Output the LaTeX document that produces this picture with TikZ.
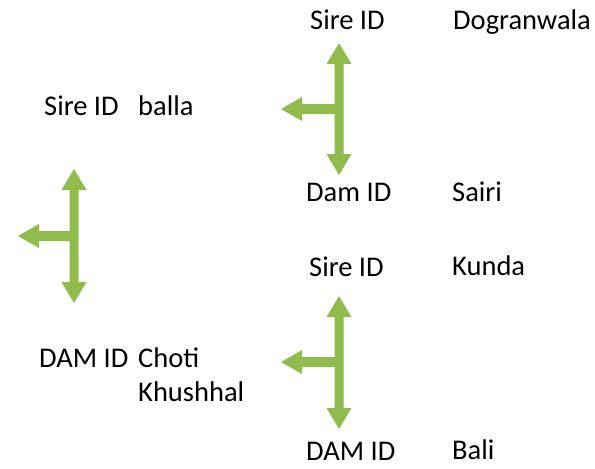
\documentclass[tikz,border=0pt]{standalone}
\usepackage{fontspec}
\setmainfont{Carlito}
\definecolor{arrowgreen}{RGB}{143,188,76}
\begin{document}
\begin{tikzpicture}[x=1pt,y=-1pt,
  lbl/.style={anchor=base west,inner sep=0pt,font=\fontsize{28.5}{34}\selectfont,text=black},
  tarrow/.style={fill=arrowgreen,draw=none}]
\useasboundingbox (0,0) rectangle (595,469);
% arrows
\fill[tarrow] (74,169) -- (86.5,190) -- (78.5,190) -- (78.5,282) -- (86.5,282)
  -- (74,303) -- (61.5,282) -- (69.5,282) -- (69.5,241) -- (39,241) -- (39,248)
  -- (18,236) -- (39,224) -- (39,231) -- (69.5,231) -- (69.5,190) -- (61.5,190) -- cycle;
\fill[tarrow] (339,43) -- (351.5,64) -- (343.5,64) -- (343.5,154) -- (351.5,154)
  -- (339,175) -- (326.5,154) -- (334.5,154) -- (334.5,114) -- (302,114) -- (302,121)
  -- (281,109) -- (302,97) -- (302,104) -- (334.5,104) -- (334.5,64) -- (326.5,64) -- cycle;
\fill[tarrow] (339,296) -- (351.5,317) -- (343.5,317) -- (343.5,408) -- (351.5,408)
  -- (339,429) -- (326.5,408) -- (334.5,408) -- (334.5,367) -- (302,367) -- (302,374)
  -- (281,362) -- (302,350) -- (302,357) -- (334.5,357) -- (334.5,317) -- (326.5,317) -- cycle;
% left column
\node[lbl] (s1) at (44,115) {Sire ID};
\node[lbl] (s1v) at (138,115) {balla};
\node[lbl] (d1) at (39,367) {DAM ID};
\node[lbl] (d1v) at (138,367) {Choti};
\node[lbl] (d1w) at (138,401) {Khushhal};
% right column
\node[lbl] (s2) at (310,29) {Sire ID};
\node[lbl] (s2v) at (453,29) {Dogranwala};
\node[lbl] (d2) at (306,201) {Dam ID};
\node[lbl] (d2v) at (452,201) {Sairi};
\node[lbl] (s3) at (309,276) {Sire ID};
\node[lbl] (s3v) at (452,275) {Kunda};
\node[lbl] (d3) at (306,460) {DAM ID};
\node[lbl] (d3v) at (452,459) {Bali};
\end{tikzpicture}
\end{document}
